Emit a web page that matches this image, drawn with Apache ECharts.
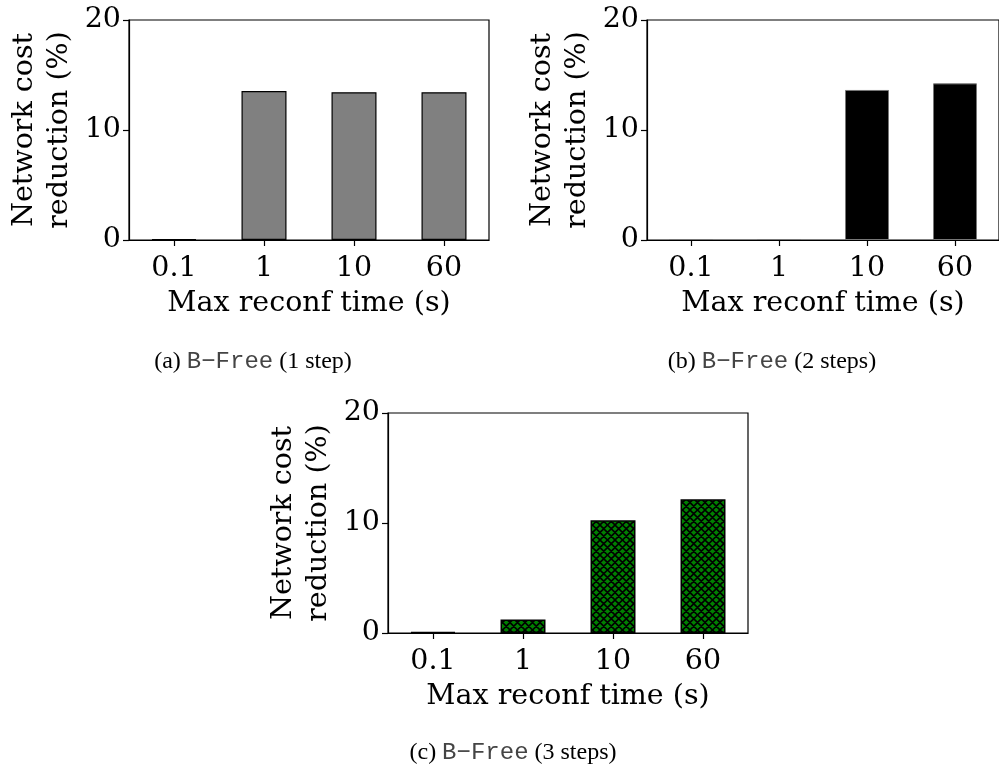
<!DOCTYPE html>
<html>
<head>
<meta charset="utf-8">
<script src="https://cdn.jsdelivr.net/npm/echarts@6/dist/echarts.min.js"></script>
<style>
html,body{margin:0;padding:0;background:#fff;}
#main{width:999px;height:767px;}
</style>
</head>
<body>
<div id="main"></div>
<script>
// ---- data ----
var categories = ['0.1', '1', '10', '60'];
var valuesOneStep = [0, 13.55, 13.43, 13.43];
var valuesTwoSteps = [0, 0, 13.64, 14.24];
var valuesThreeSteps = [0, 1.23, 10.24, 12.15];
var yTicks = [0, 10, 20];
var xAxisTitle = 'Max reconf time (s)';
var yAxisTitle = 'Network cost\nreduction (%)';
var captions = [
  {tag: '(a) ', name: 'B\u2212Free', rest: ' (1 step)'},
  {tag: '(b) ', name: 'B\u2212Free', rest: ' (2 steps)'},
  {tag: '(c) ', name: 'B\u2212Free', rest: ' (3 steps)'}
];

// ---- hatch pattern (green with black crosshatch) ----
function makeHatch() {
  var s = 7.5;
  var c = document.createElement('canvas');
  c.width = 15; c.height = 15;
  var g = c.getContext('2d');
  g.fillStyle = '#008000';
  g.fillRect(0, 0, 15, 15);
  g.strokeStyle = '#000';
  g.lineWidth = 1.6;
  g.beginPath();
  for (var k = -15; k <= 30; k += s) {
    g.moveTo(k, 0); g.lineTo(k + 15, 15);
    g.moveTo(k, 15); g.lineTo(k + 15, 0);
  }
  g.stroke();
  return c;
}
var hatch = makeHatch();

var FONT = 'DejaVu Serif';
var FS = 28.5;

var grids = [
  {left: 129, top: 20, width: 360, height: 220},
  {left: 647, top: 20, width: 360, height: 220},
  {left: 388, top: 413, width: 360, height: 220}
];

function xAx(i) {
  return {
    type: 'category', gridIndex: i, data: categories,
    boundaryGap: true,
    axisLine: {show: true, lineStyle: {color: '#000', width: 1.2}},
    axisTick: {show: true, alignWithLabel: true, length: 6, lineStyle: {color: '#000', width: 1.2}},
    axisLabel: {color: '#000', fontFamily: FONT, fontSize: FS, margin: 14},
    name: xAxisTitle, nameLocation: 'middle', nameGap: 49,
    nameTextStyle: {color: '#000', fontFamily: FONT, fontSize: FS}
  };
}
function yAx(i) {
  return {
    type: 'value', gridIndex: i, min: yTicks[0], max: yTicks[yTicks.length - 1], interval: 10,
    axisLine: {show: true, lineStyle: {color: '#000', width: 1.2}},
    axisTick: {show: true, length: 6, lineStyle: {color: '#000', width: 1.2}},
    axisLabel: {color: '#000', fontFamily: FONT, fontSize: FS, margin: 8},
    splitLine: {show: false},
    name: yAxisTitle, nameLocation: 'middle', nameRotate: 90, nameGap: 52,
    nameTextStyle: {color: '#000', fontFamily: FONT, fontSize: FS, lineHeight: 35, align: 'center'}
  };
}

function caption(i, x, y) {
  var c = captions[i];
  return {
    type: 'text', x: x, y: y,
    style: {
      text: '{t|' + c.tag + '}{m|' + c.name + '}{t|' + c.rest + '}',
      rich: {
        t: {fontFamily: 'Liberation Serif', fontSize: 24, fill: '#000'},
        m: {fontFamily: 'Liberation Mono', fontSize: 24, fill: '#444'}
      },
      align: 'center', verticalAlign: 'middle'
    }
  };
}

var chart = echarts.init(document.getElementById('main'), null, {renderer: 'canvas'});
chart.setOption({
  animation: false,
  backgroundColor: '#fff',
  grid: grids.map(function (g) {
    return Object.assign({show: true, borderColor: '#000', borderWidth: 1.2, backgroundColor: 'transparent'}, g);
  }),
  xAxis: [xAx(0), xAx(1), xAx(2)],
  yAxis: [yAx(0), yAx(1), yAx(2)],
  series: [
    {type: 'bar', xAxisIndex: 0, yAxisIndex: 0, data: valuesOneStep, barWidth: '50%', barMinHeight: 1,
      itemStyle: {color: '#808080', borderColor: '#000', borderWidth: 1.2}},
    {type: 'bar', xAxisIndex: 1, yAxisIndex: 1, data: valuesTwoSteps, barWidth: '50%', barMinHeight: 1,
      itemStyle: {color: '#000', borderColor: '#777', borderWidth: 1}},
    {type: 'bar', xAxisIndex: 2, yAxisIndex: 2, data: valuesThreeSteps, barWidth: '50%', barMinHeight: 1,
      itemStyle: {color: {image: hatch, repeat: 'repeat'}, borderColor: '#000', borderWidth: 1.5}}
  ],
  graphic: [
    caption(0, 253, 362),
    caption(1, 772, 362),
    caption(2, 513, 753)
  ]
});
</script>
</body>
</html>
